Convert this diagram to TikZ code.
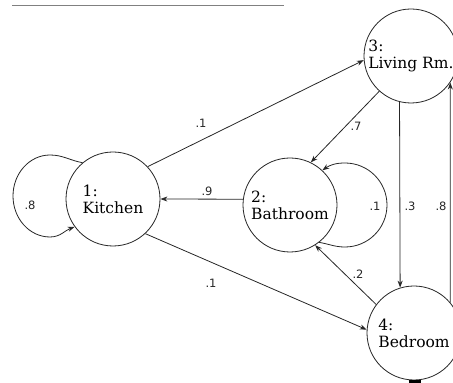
\documentclass[tikz,border=0pt]{standalone}
\usepackage{fontspec}
\setmainfont{DejaVu Serif}
\newfontfamily\lblfont{DejaVu Sans}
\usetikzlibrary{arrows.meta}
\tikzset{
  state/.style={draw=black!85, line width=0.8pt, circle, minimum size=94pt, inner sep=0pt,
    align=left, font=\fontsize{15.5}{17}\selectfont},
  edge/.style={draw=black!85, line width=0.8pt, -{Stealth[length=7pt,width=5pt]}},
  prob/.style={font=\lblfont\fontsize{11.5}{13}\selectfont, text=black!85, inner sep=1pt},
}
\begin{document}
\begin{tikzpicture}[x=1pt,y=1pt]
\useasboundingbox (0,0) rectangle (453,383);
\clip (0,0) rectangle (453,383);
\draw[black!50, line width=1pt] (12,377) -- (284,377);

\node[state] (K) at (113,184) {1:\\Kitchen};
\node[state] (B) at (290,178) {2:\\Bathroom};
\node[state] (L) at (411,327) {3:\\Living Rm.};
\node[state] (D) at (414,50) {4:\\Bedroom};

% self loops
\draw[edge] (K.130) to[out=170,in=0] (50,228)
  arc[start angle=90, end angle=270, x radius=37, y radius=41]
  to[out=0,in=200] (K.216);
\draw[edge] (B.-52) to[out=-10,in=180] (345,136)
  arc[start angle=-90, end angle=90, x radius=42, y radius=42]
  to[out=180,in=35] (B.47);

% edges
\draw[edge] (K.43) -- (L.185);
\draw[edge] (L.228) -- (B.64);
\draw[edge] (B.173) -- (K.0);
\draw[edge] (K.313) -- (D.176);
\draw[edge] (L.256.5) -- (D.107.3);
\draw[edge] (D.40) -- (L.326);
\draw[edge] (D.143) -- (B.302);

\fill[black] (409,0) rectangle (421,3);

% labels
\node[prob] (p8k) at (30,178) {.8};
\node[prob] (p1kl) at (201,260) {.1};
\node[prob] (p7) at (356,257) {.7};
\node[prob] (p9) at (207,192) {.9};
\node[prob] (p1b) at (375,177) {.1};
\node[prob] (p3) at (410,177) {.3};
\node[prob] (p8d) at (441,177) {.8};
\node[prob] (p1kd) at (211,100) {.1};
\node[prob] (p2) at (358,109) {.2};
\end{tikzpicture}
\end{document}
